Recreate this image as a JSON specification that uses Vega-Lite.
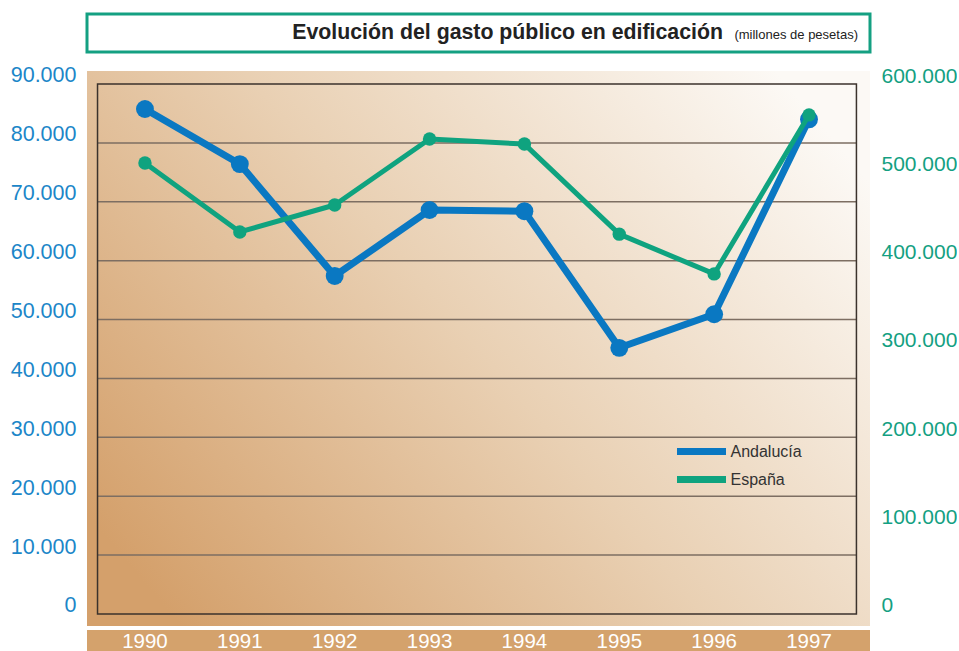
{
  "$schema": "https://vega.github.io/schema/vega-lite/v6.json",
  "padding": {"left": 10, "top": 12, "right": 0, "bottom": 0},
  "background": "white",
  "config": {"font": "Liberation Sans", "view": {"stroke": null}},
  "datasets": {
    "gasto": [
      {"year": 1990, "serie": "Andalucía", "value": 85750},
      {"year": 1991, "serie": "Andalucía", "value": 76400},
      {"year": 1992, "serie": "Andalucía", "value": 57400},
      {"year": 1993, "serie": "Andalucía", "value": 68600},
      {"year": 1994, "serie": "Andalucía", "value": 68400},
      {"year": 1995, "serie": "Andalucía", "value": 45200},
      {"year": 1996, "serie": "Andalucía", "value": 50900},
      {"year": 1997, "serie": "Andalucía", "value": 84000},
      {"year": 1990, "serie": "España", "value": 510600},
      {"year": 1991, "serie": "España", "value": 432500},
      {"year": 1992, "serie": "España", "value": 463000},
      {"year": 1993, "serie": "España", "value": 537700},
      {"year": 1994, "serie": "España", "value": 532000},
      {"year": 1995, "serie": "España", "value": 430000},
      {"year": 1996, "serie": "España", "value": 385000},
      {"year": 1997, "serie": "España", "value": 565000}
    ]
  },
  "bounds": "flush",
  "spacing": 19,
  "vconcat": [
    {
      "width": 783,
      "height": 38,
      "view": {"stroke": "#14a082", "strokeWidth": 3, "fill": "white"},
      "layer": [
        {
          "data": {"values": [{"t": "Evolución del gasto público en edificación"}]},
          "mark": {"type": "text", "fontSize": 21.3, "fontWeight": "bold", "align": "right", "baseline": "alphabetic", "color": "#222222", "x": 636, "y": 25},
          "encoding": {"text": {"field": "t", "type": "nominal"}}
        },
        {
          "data": {"values": [{"t": "(millones de pesetas)"}]},
          "mark": {"type": "text", "fontSize": 13, "align": "right", "baseline": "alphabetic", "color": "#222222", "x": 771, "y": 25},
          "encoding": {"text": {"field": "t", "type": "nominal"}}
        }
      ]
    },
    {
      "bounds": "flush",
      "spacing": 4,
      "vconcat": [
        {
          "width": 783,
          "height": 555,
          "view": {
            "stroke": null,
            "fill": {
              "gradient": "linear", "x1": 0, "y1": 0.8, "x2": 1, "y2": 0.2,
              "stops": [
                {"offset": 0, "color": "#d4a06b"},
                {"offset": 0.5, "color": "#e9d0b3"},
                {"offset": 1, "color": "#fcf9f5"}
              ]
            }
          },
          "resolve": {"scale": {"y": "independent"}},
          "layer": [
            {
              "layer": [
                {
                  "data": {"values": [{"v": 10000}, {"v": 20000}, {"v": 30000}, {"v": 40000}, {"v": 50000}, {"v": 60000}, {"v": 70000}, {"v": 80000}]},
                  "mark": {"type": "rule", "stroke": "#7d6e62", "strokeWidth": 1.5},
                  "encoding": {
                    "x": {"datum": 1989.5, "type": "quantitative", "scale": {"domain": [1989.389, 1997.643], "nice": false, "zero": false}, "axis": null},
                    "x2": {"datum": 1997.5},
                    "y": {"field": "v", "type": "quantitative", "title": null,
                      "scale": {"domain": [-2038, 92207], "nice": false, "zero": false},
                      "axis": {"orient": "left", "values": [0, 10000, 20000, 30000, 40000, 50000, 60000, 70000, 80000, 90000], "labelExpr": "datum.value == 0 ? '0' : replace(format(datum.value, ','), ',', '.')", "domain": false, "ticks": false, "grid": false, "labelPadding": 11, "labelFontSize": 21.5, "labelColor": "#1b86c8", "labelFont": "Liberation Sans", "labelOffset": -8, "title": null}}
                  }
                },
                {
                  "data": {"values": [{}]},
                  "mark": {"type": "rect", "fill": "transparent", "stroke": "#3b322c", "strokeWidth": 1.5},
                  "encoding": {
                    "x": {"datum": 1989.5, "type": "quantitative", "axis": null},
                    "x2": {"datum": 1997.5},
                    "y": {"datum": 0, "type": "quantitative"},
                    "y2": {"datum": 90000}
                  }
                },
                {
                  "data": {"name": "gasto"},
                  "transform": [{"filter": "datum.serie === 'Andalucía'"}],
                  "mark": {"type": "line", "strokeWidth": 7, "strokeJoin": "round", "point": {"filled": true, "size": 320, "opacity": 1}},
                  "encoding": {
                    "x": {"field": "year", "type": "quantitative", "axis": null},
                    "y": {"field": "value", "type": "quantitative", "title": null},
                    "color": {"field": "serie", "type": "nominal",
                      "scale": {"domain": ["Andalucía", "España"], "range": ["#0a78c2", "#0fa37f"]},
                      "legend": {"title": null, "orient": "none", "legendX": 601, "legendY": 424, "symbolType": "M-2.45,0H2.45", "symbolStrokeWidth": 7, "symbolSize": 400, "labelFontSize": 16, "labelColor": "#333333", "labelOffset": 15.5, "rowPadding": -1, "labelFont": "Liberation Sans"}}
                  }
                }
              ]
            },
            {
              "data": {"name": "gasto"},
              "transform": [{"filter": "datum.serie === 'España'"}],
              "mark": {"type": "line", "strokeWidth": 5, "strokeJoin": "round", "point": {"filled": true, "size": 180, "opacity": 1}},
              "encoding": {
                "x": {"field": "year", "type": "quantitative", "axis": null},
                "y": {"field": "value", "type": "quantitative", "title": null,
                  "scale": {"domain": [-13585, 614717], "nice": false, "zero": false},
                  "axis": {"orient": "right", "values": [0, 100000, 200000, 300000, 400000, 500000, 600000], "labelExpr": "datum.value == 0 ? '0' : replace(format(datum.value, ','), ',', '.')", "domain": false, "ticks": false, "grid": false, "labelPadding": 11, "labelFontSize": 21, "labelColor": "#14a082", "labelFont": "Liberation Sans", "labelOffset": -8, "title": null}},
                "color": {"field": "serie", "type": "nominal"}
              }
            }
          ]
        },
        {
          "width": 783,
          "height": 22,
          "view": {"fill": "#d4a26c", "stroke": null},
          "data": {"values": [{"year": 1990}, {"year": 1991}, {"year": 1992}, {"year": 1993}, {"year": 1994}, {"year": 1995}, {"year": 1996}, {"year": 1997}]},
          "mark": {"type": "text", "color": "white", "fontSize": 20.5, "baseline": "middle", "dy": 1},
          "encoding": {
            "x": {"field": "year", "type": "quantitative", "scale": {"domain": [1989.389, 1997.643], "nice": false, "zero": false}, "axis": null},
            "text": {"field": "year", "type": "nominal"}
          }
        }
      ]
    }
  ]
}
